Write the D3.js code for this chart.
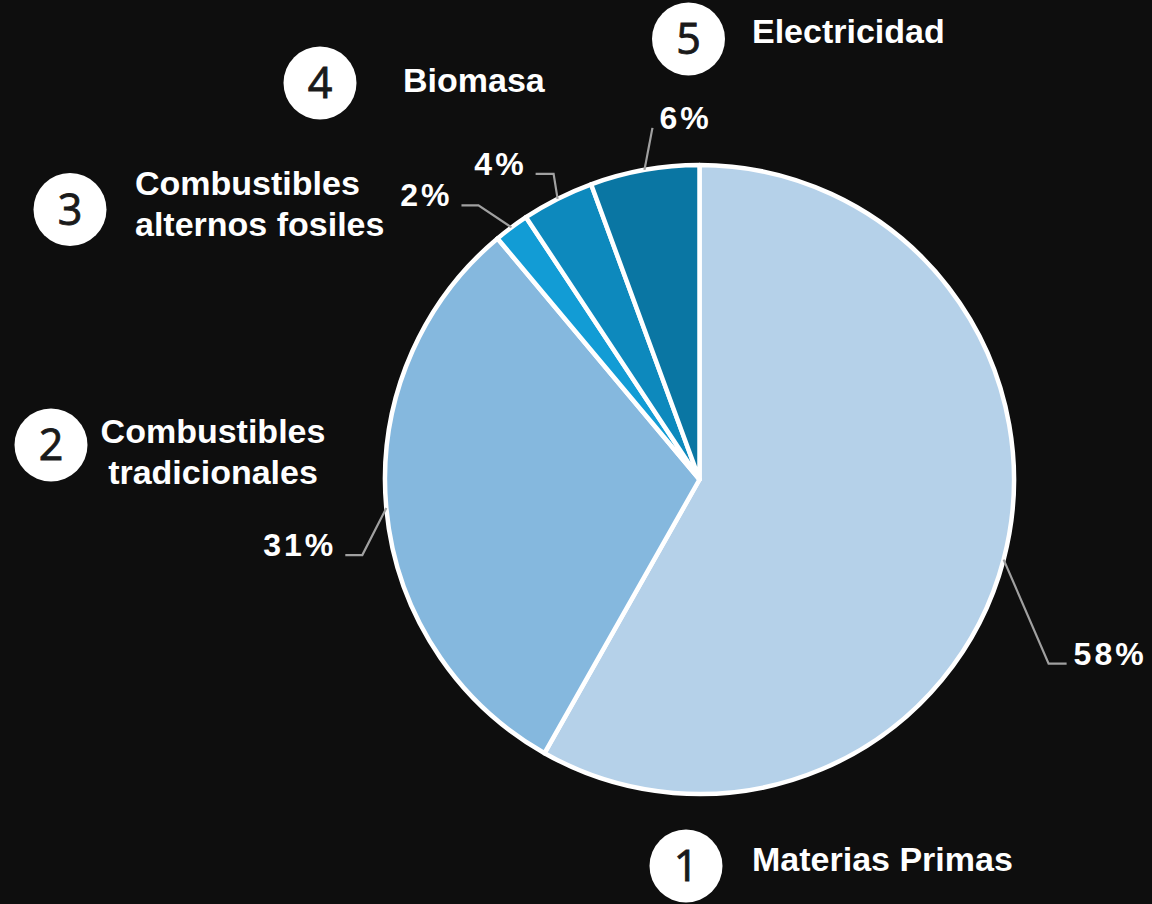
<!DOCTYPE html>
<html>
<head>
<meta charset="utf-8">
<script src="https://cdn.jsdelivr.net/npm/d3@7"></script>
<style>
  html, body { margin: 0; padding: 0; background: #0e0e0e; }
  svg { display: block; }
</style>
</head>
<body>
<script>
// ---- data ----
const categories = ["Materias Primas", "Combustibles tradicionales", "Combustibles alternos fosiles", "Biomasa", "Electricidad"];
const labelLines = [["Materias Primas"], ["Combustibles", "tradicionales"], ["Combustibles", "alternos fosiles"], ["Biomasa"], ["Electricidad"]];
const values = [58.2, 30.7, 1.8, 3.7, 5.6];
const percentLabels = ["58%", "31%", "2%", "4%", "6%"];
const numbers = ["1", "2", "3", "4", "5"];
const colors = ["#b5d1e9", "#85b8de", "#129cd5", "#0d89bd", "#0a76a3"];

// ---- layout ----
const W = 1152, H = 904;
const cx = 699.5, cy = 479.5, R = 314.5;
// leader elbow offsets from slice edge point, horizontal run, label side
const leaderLayout = [
  { dx: 45, dy: 104, run: 18, side: 1 },
  { dx: -24, dy: 47, run: -17, side: -1 },
  { dx: -33, dy: -22, run: -17, side: -1 },
  { dx: -4, dy: -25, run: -18, side: -1 },
  { dx: 8, dy: -42, run: 0, side: 1 }
];
// legend circle + title placement
const legendLayout = [
  { cx: 686, cy: 866, tx: 752, ty: 871, anchor: "start" },
  { cx: 51, cy: 445, tx: 213, ty: 443, anchor: "middle" },
  { cx: 70, cy: 209.5, tx: 135, ty: 195, anchor: "start" },
  { cx: 320, cy: 83, tx: 403, ty: 92, anchor: "start" },
  { cx: 688.5, cy: 39, tx: 752, ty: 43, anchor: "start" }
];

const svg = d3.select("body").append("svg").attr("width", W).attr("height", H);
svg.append("rect").attr("width", W).attr("height", H).attr("fill", "#0e0e0e");

const pie = d3.pie().sort(null).value(d => d)(values);
const arc = d3.arc().innerRadius(0).outerRadius(R);
const edgeArc = d3.arc().innerRadius(R).outerRadius(R);

const g = svg.append("g").attr("transform", `translate(${cx},${cy})`);
g.selectAll("path.slice").data(pie).join("path")
  .attr("class", "slice")
  .attr("d", arc)
  .attr("fill", (d, i) => colors[i])
  .attr("stroke", "#ffffff")
  .attr("stroke-width", 4.5)
  .attr("stroke-linejoin", "round");

// leader lines and percentage labels
pie.forEach((d, i) => {
  const [sx, sy] = edgeArc.centroid(d);
  const L = leaderLayout[i];
  const ex = sx + L.dx, ey = sy + L.dy;
  const hx = ex + L.run;
  g.append("polyline")
    .attr("points", `${sx},${sy} ${ex},${ey} ${hx},${ey}`)
    .attr("fill", "none")
    .attr("stroke", "#a0a0a0")
    .attr("stroke-width", 2.2);
  g.append("text")
    .attr("x", hx + (L.side > 0 ? 7 : -9))
    .attr("y", ey + 1)
    .attr("text-anchor", L.side > 0 ? "start" : "end")
    .attr("font-family", "'Liberation Sans', Arial, sans-serif")
    .attr("font-weight", "bold")
    .attr("font-size", 32)
    .attr("letter-spacing", 3)
    .attr("fill", "#ffffff")
    .text(percentLabels[i]);
});

// legend numbered circles and titles
const leg = svg.append("g");
categories.forEach((c, i) => {
  const L = legendLayout[i];
  leg.append("circle").attr("cx", L.cx).attr("cy", L.cy).attr("r", 36.5).attr("fill", "#ffffff");
  leg.append("text")
    .attr("x", L.cx).attr("y", L.cy + 15)
    .attr("text-anchor", "middle")
    .attr("font-family", "'Open Sans', 'Noto Sans', sans-serif")
    .attr("font-size", 43)
    .attr("fill", "#1a1a1a")
    .attr("stroke", "#1a1a1a")
    .attr("stroke-width", 0.9)
    .text(numbers[i]);
  const t = leg.append("text")
    .attr("text-anchor", L.anchor)
    .attr("font-family", "'Liberation Sans', Arial, sans-serif")
    .attr("font-weight", "bold")
    .attr("font-size", 34)
    .attr("fill", "#ffffff");
  labelLines[i].forEach((line, k) => {
    t.append("tspan").attr("x", L.tx).attr("y", L.ty + k * 41).text(line);
  });
});
</script>
</body>
</html>
